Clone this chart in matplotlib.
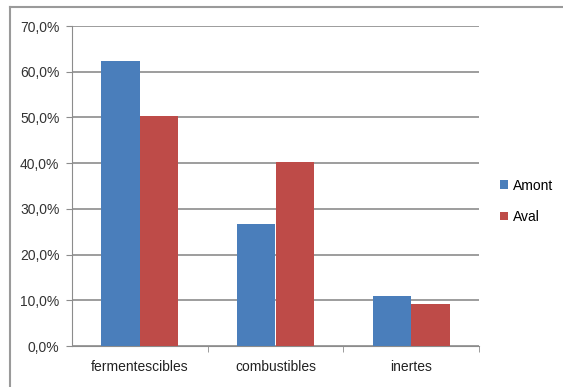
import numpy as np
from matplotlib import pyplot as plt
from matplotlib.ticker import FuncFormatter

categories = ["fermentescibles", "combustibles", "inertes"]
amont = [62.4, 26.6, 10.9]
aval = [50.3, 40.3, 9.2]
yticks = [0, 10, 20, 30, 40, 50, 60, 70]

blue = "#4a7ebb"
red = "#be4b48"
grid = "#8c8c8c"

plt.rcParams['font.family'] = ['Liberation Sans', 'DejaVu Sans']

fig = plt.figure(figsize=(5.63, 3.87), dpi=100)
# axes box: x 72..479, y 26..346 (pixels)
ax = fig.add_axes([72/563, 1-346/387, (479-72)/563, (346-26)/387])

x = np.arange(len(categories))
w = 0.285
ax.bar(x - w/2, amont, w, color=blue, label="Amont", zorder=3)
ax.bar(x + w/2, aval, w, color=red, label="Aval", zorder=3)

ax.set_xlim(-0.5, 2.5)
ax.set_ylim(0, 70)
ax.set_yticks(yticks)
ax.yaxis.set_major_formatter(FuncFormatter(lambda v, p: f"{v:.1f}%".replace(".", ",")))
ax.yaxis.grid(True, color=grid, linewidth=1.2, zorder=0)

ax.set_xticks(x)
ax.set_xticklabels(categories)
ax.set_xticks([0.5, 1.5, 2.5], minor=True)
ax.tick_params(axis="x", which="major", length=0, pad=10, labelsize=10, colors="#222222")
ax.tick_params(axis="x", which="minor", length=4, color=grid, direction="out")
ax.tick_params(axis="y", length=4, color=grid, pad=5, labelsize=10, colors="#333333")

for s in ["top", "right"]:
    ax.spines[s].set_visible(False)
ax.spines["left"].set_color(grid)
ax.spines["bottom"].set_color(grid)

leg = fig.legend(loc="upper left", bbox_to_anchor=(487/563, 1-166/387), frameon=False,
                 fontsize=10, handlelength=0.6, handleheight=0.6, handletextpad=0.4,
                 labelspacing=1.25)

# outer chart frame (top and left edges visible)
fig.add_artist(plt.Line2D([10/563, 1], [1-7/387, 1-7/387], color="#9a9a9a", linewidth=1.5))
fig.add_artist(plt.Line2D([10/563, 10/563], [0, 1-7/387], color="#9a9a9a", linewidth=1.5))

fig.savefig("out.png", dpi=100)
